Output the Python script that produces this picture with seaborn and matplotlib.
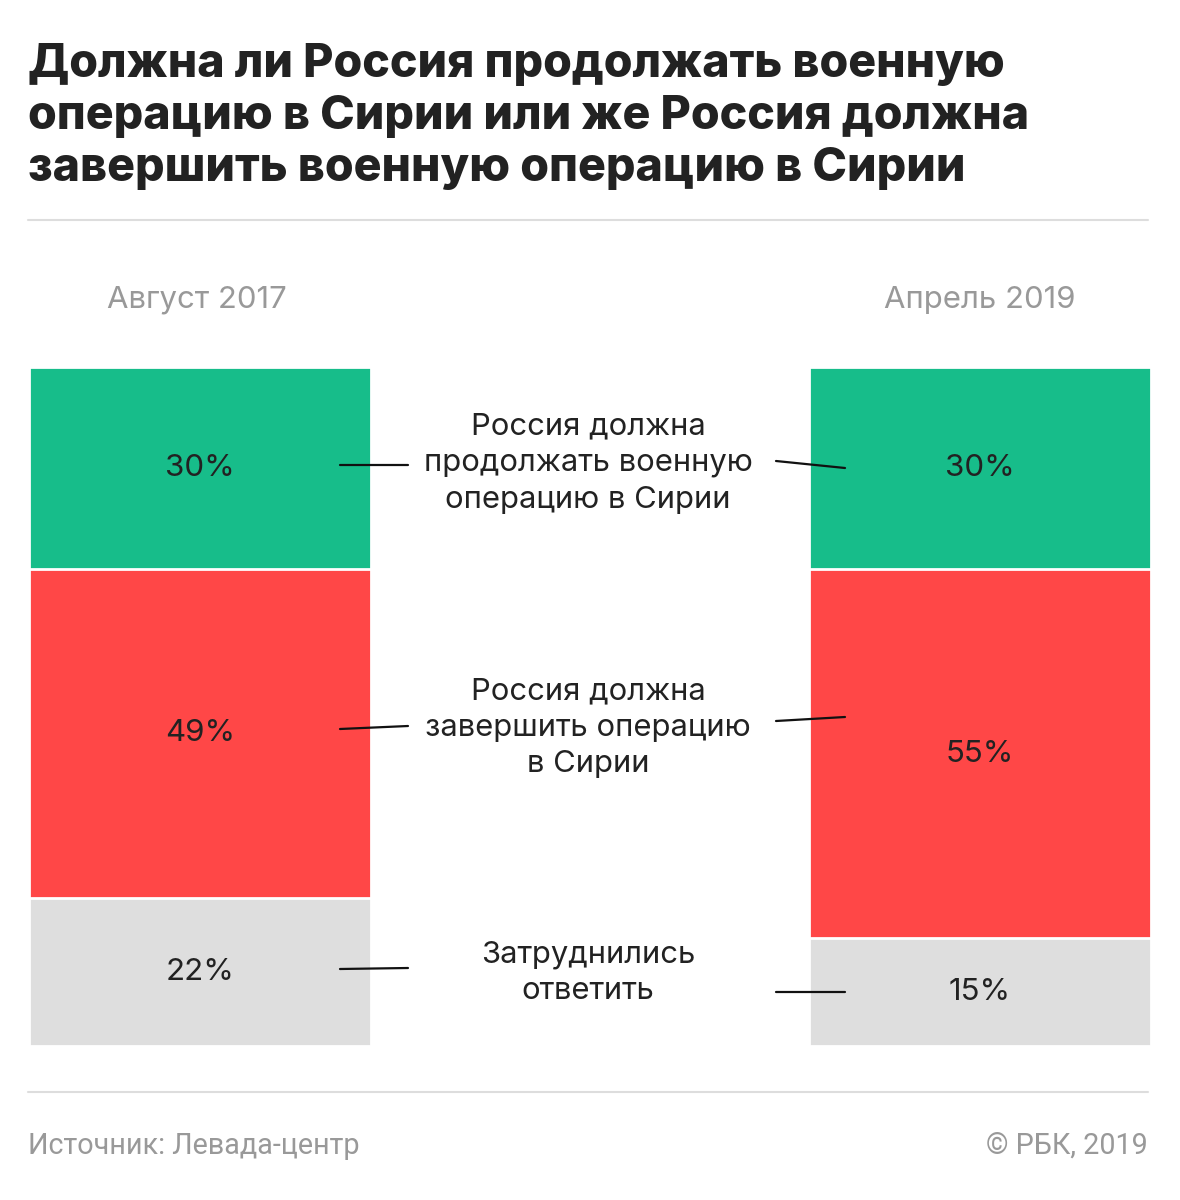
import numpy as np
import pandas as pd
import seaborn as sns
import matplotlib.pyplot as plt
from matplotlib.lines import Line2D

sns.set_theme(style="white")
plt.rcParams['font.family'] = ['Inter', 'DejaVu Sans']

# данные
periods = ['Август 2017', 'Апрель 2019']
answers = ['Россия должна\nпродолжать военную\nоперацию в Сирии',
           'Россия должна\nзавершить операцию\nв Сирии',
           'Затруднились\nответить']
val_continue = [30, 30]
val_finish = [49, 55]
val_unsure = [22, 15]

colors = ['#17BD8A', '#FF4747', '#DEDEDE']
W, H = 1180, 1200

df = pd.DataFrame({'period': periods, 'continue': val_continue,
                   'finish': val_finish, 'unsure': val_unsure})
cum = df[['continue', 'finish', 'unsure']].cumsum(axis=1)
ymax = cum['unsure'].max()
# последний сегмент дотягиваем до низа, как в оригинале
cum['unsure'] = ymax

fig = plt.figure(figsize=(W / 100, H / 100), dpi=100)
ax = fig.add_axes([29 / W, 1 - 1046 / H, 1122 / W, 679 / H])

bar_w = 342 / 780
# слои сверху вниз: сначала полная высота, потом накопленные
for col, c in zip(['unsure', 'finish', 'continue'], colors[::-1]):
    sns.barplot(x=df['period'], y=cum[col], color=c, width=bar_w,
                edgecolor='white', linewidth=2, saturation=1, ax=ax)

ax.set_xlim(-bar_w / 2, 1 + bar_w / 2)
ax.set_ylim(ymax, 0)
ax.axis('off')

# подписи процентов
starts = cum.shift(1, axis=1).fillna(0)
for i in range(len(periods)):
    for col in ['continue', 'finish', 'unsure']:
        mid = (starts.loc[i, col] + cum.loc[i, col]) / 2
        ax.text(i, mid, f"{df.loc[i, col]}%", ha='center', va='center',
                fontsize=22.5, color='#222222')


def px(x, y):
    return x / W, 1 - y / H


# заголовок
title_lines = ['Должна ли Россия продолжать военную',
               'операцию в Сирии или же Россия должна',
               'завершить военную операцию в Сирии']
for k, line in enumerate(title_lines):
    fig.text(*px(28, 77 + 52 * k), line, fontsize=33.5, fontweight='heavy',
             color='#222222', ha='left', va='baseline')

# линии-разделители
for yy in [220, 1092]:
    fig.add_artist(Line2D([28 / W, 1148 / W], [1 - yy / H] * 2,
                          color='#DDDDDD', lw=1.5, transform=fig.transFigure))

# названия периодов
fig.text(*px(197, 308), periods[0], fontsize=22.4, color='#999999',
         ha='center', va='baseline')
fig.text(*px(980, 308), periods[1], fontsize=22.4, color='#999999',
         ha='center', va='baseline')

# подписи ответов и выноски
label_y = [463, 728, 973]
connectors = [(465, 465, 461, 468), (729, 726, 721, 717), (969, 968, 992, 992)]
for text, ly, (a, b, c, d) in zip(answers, label_y, connectors):
    fig.text(*px(588, ly), text, fontsize=22.3, color='#222222',
             ha='center', va='center', multialignment='center', linespacing=1.38)
    fig.add_artist(Line2D([340 / W, 408 / W], [1 - a / H, 1 - b / H],
                          color='#111111', lw=1.6, transform=fig.transFigure))
    fig.add_artist(Line2D([776 / W, 845 / W], [1 - c / H, 1 - d / H],
                          color='#111111', lw=1.6, transform=fig.transFigure))

# подвал
fig.text(*px(28, 1154), 'Источник: Левада-центр', fontsize=20.7, color='#999999',
         family=['Roboto', 'DejaVu Sans'], ha='left', va='baseline')
fig.text(*px(1148, 1154), '© РБК, 2019', fontsize=20.7, color='#999999',
         family=['Roboto', 'DejaVu Sans'], ha='right', va='baseline')

fig.savefig('out.png', dpi=100, facecolor='white')
plt.close()
